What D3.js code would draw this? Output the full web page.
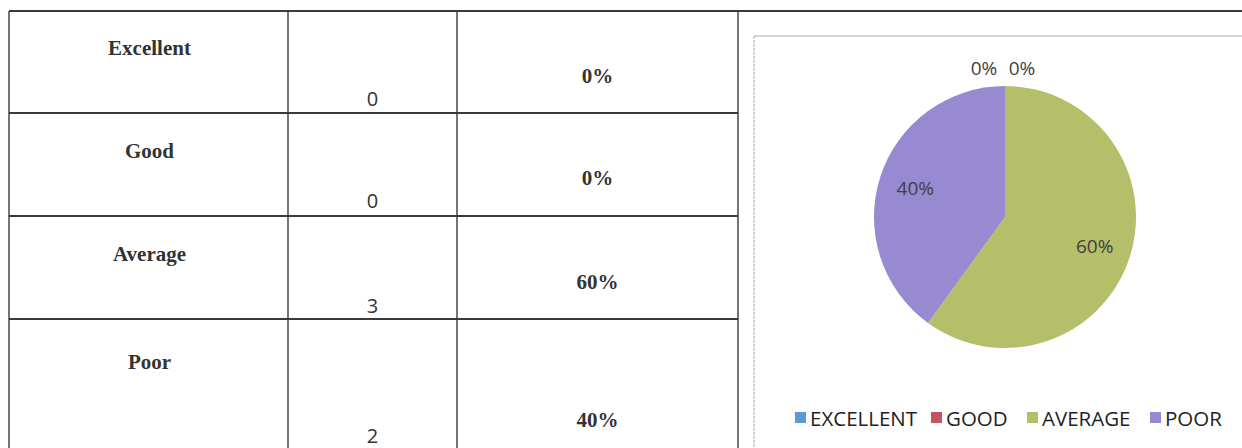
<!DOCTYPE html>
<html>
<head>
<meta charset="utf-8">
<script src="https://cdn.jsdelivr.net/npm/d3@7"></script>
<style>
  body { margin: 0; background: #fff; }
</style>
</head>
<body>
<script>
// donnees
const categories = ["Excellent", "Good", "Average", "Poor"];
const legendLabels = ["EXCELLENT", "GOOD", "AVERAGE", "POOR"];
const counts = [0, 0, 3, 2];
const pctLabels = ["0%", "0%", "60%", "40%"];
const colors = ["#5b9bd5", "#c65460", "#b5bf6a", "#978ad0"];

const largeur = 1242, hauteur = 448;

const svg = d3.select("body").append("svg")
  .attr("width", largeur).attr("height", hauteur);

// Le tableau
const colX = [9, 288, 457, 738];
const rowY = [11, 113, 216, 319, 460];
const lineColor = "#3a3a3a";

const grid = svg.append("g");
rowY.slice(0, 4).forEach(y => {
  grid.append("line").attr("x1", colX[0]).attr("x2", y === 11 ? largeur : colX[3])
    .attr("y1", y).attr("y2", y).attr("stroke", lineColor).attr("stroke-width", 1.8);
});
colX.forEach(x => {
  grid.append("line").attr("x1", x).attr("x2", x)
    .attr("y1", rowY[0]).attr("y2", hauteur).attr("stroke", lineColor).attr("stroke-width", 1.4);
});

// decalages du texte dans chaque ligne
const labelDy = [37, 38, 38, 43];
const numDy = [87, 87, 89, 116];
const pctDy = [65, 65, 66, 101];

categories.forEach((c, i) => {
  const top = rowY[i];
  svg.append("text")
    .attr("x", (colX[0] + colX[1]) / 2 + 1).attr("y", top + labelDy[i])
    .attr("text-anchor", "middle").attr("dominant-baseline", "central")
    .style("font-family", "Liberation Serif, serif").style("font-weight", "bold")
    .style("font-size", "21px").attr("fill", "#333")
    .text(c);
  svg.append("text")
    .attr("x", (colX[1] + colX[2]) / 2).attr("y", top + numDy[i])
    .attr("text-anchor", "middle").attr("dominant-baseline", "central")
    .style("font-family", "Open Sans, sans-serif")
    .style("font-size", "20px").attr("fill", "#333")
    .text(counts[i]);
  svg.append("text")
    .attr("x", (colX[2] + colX[3]) / 2).attr("y", top + pctDy[i])
    .attr("text-anchor", "middle").attr("dominant-baseline", "central")
    .style("font-family", "Liberation Serif, serif").style("font-weight", "bold")
    .style("font-size", "21px").attr("fill", "#333")
    .text(pctLabels[i]);
});

// Cadre du graphique
svg.append("line").attr("x1", 754).attr("x2", largeur).attr("y1", 36).attr("y2", 36)
  .attr("stroke", "#aaa").attr("stroke-width", 1);
svg.append("line").attr("x1", 754).attr("x2", 754).attr("y1", 36).attr("y2", hauteur)
  .attr("stroke", "#aaa").attr("stroke-width", 1).attr("stroke-dasharray", "3,1");

// Le camembert
const cx = 1005, cy = 217, rayon = 131;
const pie = d3.pie().sort(null).value(d => d);
const arcs = pie(counts);
const arc = d3.arc().innerRadius(0).outerRadius(rayon);

const gPie = svg.append("g").attr("transform", `translate(${cx},${cy})`);
gPie.selectAll("path").data(arcs).join("path")
  .attr("d", arc)
  .attr("fill", (d, i) => colors[i]);

// etiquettes
const labelArc = d3.arc().innerRadius(rayon * 0.72).outerRadius(rayon * 0.72);
const outerArc = d3.arc().innerRadius(rayon + 18).outerRadius(rayon + 18);
const zeroOffsets = [-21, 17];
gPie.selectAll("text").data(arcs).join("text")
  .attr("transform", (d, i) => {
    if (d.value === 0) {
      const p = outerArc.centroid(d);
      return `translate(${p[0] + zeroOffsets[i]},${p[1]})`;
    }
    const p = labelArc.centroid(d);
    return `translate(${p[0]},${p[1]})`;
  })
  .attr("text-anchor", "middle").attr("dominant-baseline", "central")
  .style("font-family", "Open Sans, sans-serif").style("font-size", "19px")
  .attr("fill", "#404040")
  .text((d, i) => pctLabels[i]);

// legende
const legX = [795, 931, 1027, 1150];
const legende = svg.append("g");
legendLabels.forEach((l, i) => {
  legende.append("rect").attr("x", legX[i]).attr("y", 412).attr("width", 11).attr("height", 11)
    .attr("fill", colors[i]);
  legende.append("text").attr("x", legX[i] + 15).attr("y", 418)
    .attr("dominant-baseline", "central")
    .style("font-family", "Open Sans, sans-serif").style("font-size", "20.5px")
    .attr("fill", "#222").text(l);
});
</script>
</body>
</html>
